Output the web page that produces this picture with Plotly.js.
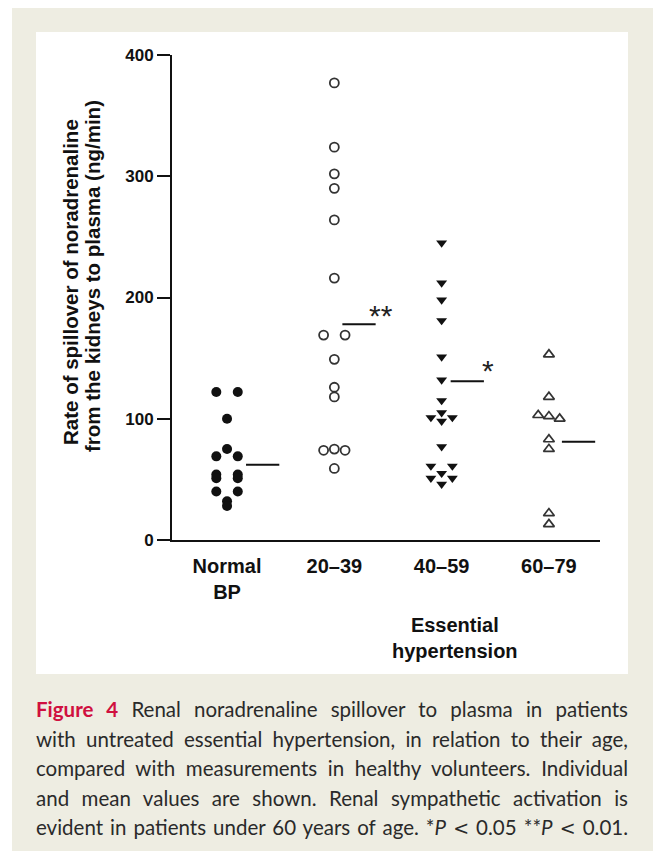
<!DOCTYPE html>
<html>
<head>
<meta charset="utf-8">
<script src="https://cdn.plot.ly/plotly-3.0.1.min.js"></script>
<style>
html,body{margin:0;padding:0;background:#ffffff;}
#wrap{position:relative;width:653px;height:851px;overflow:hidden;}
#chart{position:absolute;left:0;top:0;width:653px;height:851px;}
#caption{position:absolute;left:36px;top:695px;width:592px;font-family:Lato,'Open Sans','Noto Sans',sans-serif;font-size:20.5px;line-height:29.5px;color:#2a2a2a;}
#caption div{text-align:justify;text-align-last:justify;white-space:normal;}
#caption .fig{color:#d0103f;font-weight:700;}
#caption .lt{font-family:'DejaVu Sans',sans-serif;font-size:19px;}
</style>
</head>
<body>
<div id="wrap">
  <div id="chart"></div>
  <div id="caption">
    <div><span class="fig">Figure 4</span> Renal noradrenaline spillover to plasma in patients</div>
    <div>with untreated essential hypertension, in relation to their age,</div>
    <div>compared with measurements in healthy volunteers. Individual</div>
    <div>and mean values are shown. Renal sympathetic activation is</div>
    <div>evident in patients under 60 years of age. *<i>P</i> <span class="lt">&lt;</span> 0.05 **<i>P</i> <span class="lt">&lt;</span> 0.01.</div>
  </div>
</div>
<script>
// ---- data ----
const categories = ['Normal<br>BP', '20–39', '40–59', '60–79'];
const groupName = 'Essential<br>hypertension';
const yTitleLines = ['Rate of spillover of noradrenaline', 'from the kidneys to plasma (ng/min)'];
const yTickValues = [0, 100, 200, 300, 400];
const normalBP  = [122, 122, 100, 75, 69, 69, 54, 51, 54, 51, 40, 40, 32, 28];
const age20to39 = [377, 324, 302, 290, 264, 216, 169, 169, 149, 126, 118, 74, 75, 74, 59];
const age40to59 = [245, 212, 198, 181, 151, 132, 115, 105, 101, 101, 98, 77, 61, 61, 55, 51, 51, 46];
const age60to79 = [153, 118, 103, 102, 100, 83, 75, 22, 13];
const groupMeans = [62, 178, 131, 81];
const significance = ['', '**', '*', ''];

// ---- layout-only: horizontal placement of overlapping points (L/C/R) ----
const jitterNormal = ['L','R','C','C','L','R','L','L','R','R','L','R','C','C'];
const jitter20 = ['C','C','C','C','C','C','L','R','C','C','C','L','C','R','C'];
const jitter40 = ['C','C','C','C','C','C','C','C','L','R','C','C','L','R','C','L','R','C'];
const jitter60 = ['C','C','L','C','R','C','C','C','C'];
const jitterStep = 0.1;
const meanLineStart = [0.177, 0.075, 0.084, 0.121];
const meanLineLen = 0.31;
const sigXShift = [0, -9, -4, 0];
const sigYShift = [0, 9, 11, 0];

const groups = [normalBP, age20to39, age40to59, age60to79];
const jitters = [jitterNormal, jitter20, jitter40, jitter60];
const markerStyles = [
  {symbol: 'circle', size: 10, color: '#111111'},
  {symbol: 'circle-open', size: 9, color: '#333333', line: {width: 1.8, color: '#333333'}},
  {symbol: 'triangle-down', size: 9.5, color: '#111111'},
  {symbol: 'triangle-up-open', size: 9.5, color: '#333333', line: {width: 1.7, color: '#333333'}}
];
const off = {L: -jitterStep, C: 0, R: jitterStep};

const traces = [];
groups.forEach((vals, g) => {
  traces.push({
    type: 'scatter', mode: 'markers',
    x: vals.map((v, i) => g + off[jitters[g][i]]),
    y: vals,
    marker: markerStyles[g],
    showlegend: false, hoverinfo: 'y'
  });
  traces.push({
    type: 'scatter', mode: 'lines',
    x: [g + meanLineStart[g], g + meanLineStart[g] + meanLineLen],
    y: [groupMeans[g], groupMeans[g]],
    line: {color: '#111111', width: 2},
    showlegend: false, hoverinfo: 'y'
  });
});

const W = 653, H = 851, ML = 172, MR = 53, MT = 55, MB = 311;
const PW = W - ML - MR, PH = H - MT - MB;
const px = p => (p - ML) / PW;
const py = p => 1 - (p - MT) / PH;

const boldFont = (size) => ({family: 'Liberation Sans, Arial, sans-serif', size: size, color: '#111', weight: 'bold'});

const annotations = [];
significance.forEach((s, g) => {
  if (!s) return;
  annotations.push({
    x: g + meanLineStart[g] + meanLineLen, y: groupMeans[g], xref: 'x', yref: 'y',
    text: s, showarrow: false, xanchor: 'left', yanchor: 'middle',
    xshift: sigXShift[g], yshift: sigYShift[g],
    font: {family: 'Liberation Sans, Arial, sans-serif', size: 30, color: '#222'}
  });
});
annotations.push({
  x: 2.125, y: py(638), xref: 'x', yref: 'paper', text: groupName, showarrow: false,
  xanchor: 'center', yanchor: 'middle', font: boldFont(20)
});
// y-axis title, two rotated lines
const yTitleX = [70, 92], yTitleY = [282, 276];
yTitleLines.forEach((t, i) => {
  annotations.push({
    x: px(yTitleX[i]), y: py(yTitleY[i]), xref: 'paper', yref: 'paper', text: t,
    showarrow: false, textangle: -90, xanchor: 'center', yanchor: 'middle', font: boldFont(20.5)
  });
});

const layout = {
  width: W, height: H,
  margin: {l: ML, r: MR, t: MT, b: MB, pad: 0},
  paper_bgcolor: '#ffffff', plot_bgcolor: 'rgba(0,0,0,0)',
  showlegend: false,
  xaxis: {
    range: [-0.513, 3.476], tickvals: [0, 1, 2, 3], ticktext: categories,
    showline: true, linecolor: '#111', linewidth: 2, ticks: '', showgrid: false, zeroline: false,
    tickfont: boldFont(20), ticklabelstandoff: 7
  },
  yaxis: {
    range: [0, 400], tickvals: yTickValues,
    showline: true, linecolor: '#111', linewidth: 2, ticks: 'outside', ticklen: 13, tickwidth: 2, tickcolor: '#111',
    showgrid: false, zeroline: false,
    tickfont: boldFont(17)
  },
  shapes: [
    {type: 'rect', xref: 'paper', yref: 'paper', x0: px(12), x1: px(653), y0: py(8), y1: py(851),
     fillcolor: '#eeede2', line: {width: 0}, layer: 'below'},
    {type: 'rect', xref: 'paper', yref: 'paper', x0: px(36), x1: px(628), y0: py(32), y1: py(674),
     fillcolor: '#ffffff', line: {width: 0}, layer: 'below'}
  ],
  annotations: annotations
};

Plotly.newPlot('chart', traces, layout, {displayModeBar: false, staticPlot: true});
</script>
</body>
</html>
